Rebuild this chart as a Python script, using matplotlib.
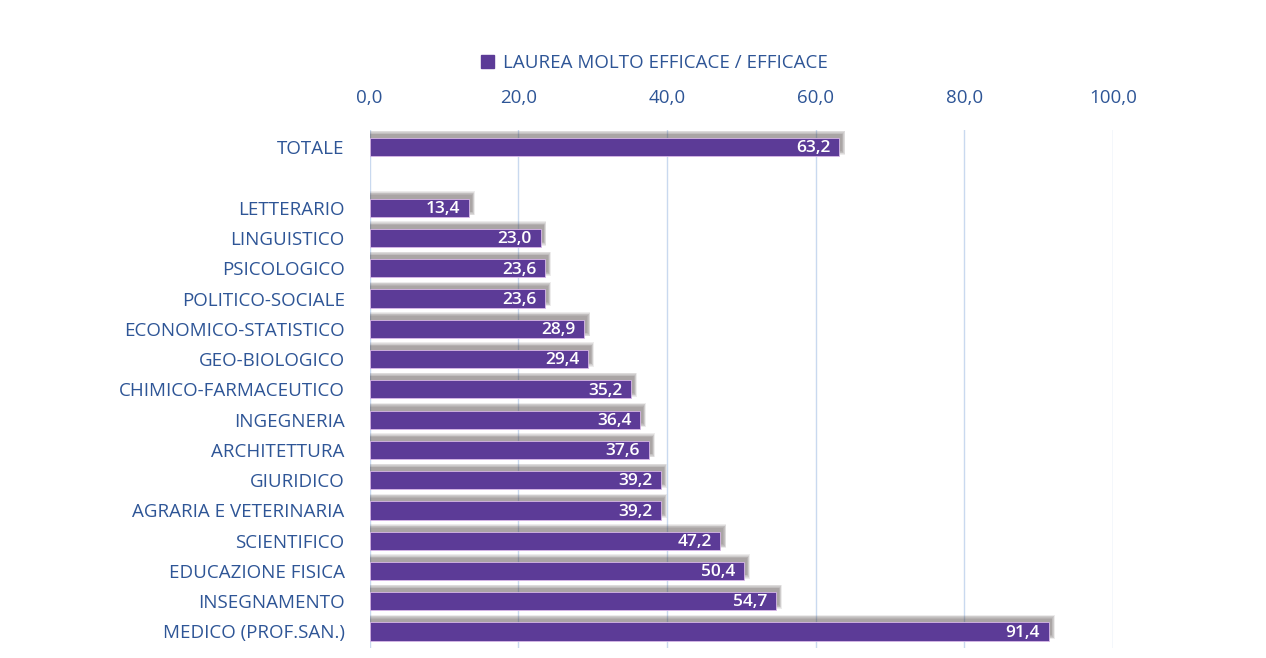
import matplotlib
matplotlib.use("Agg")
import matplotlib.pyplot as plt
from matplotlib.patches import Patch

# data (top to bottom, blank slot separates TOTALE from the groups)
categories = ["TOTALE", "", "LETTERARIO", "LINGUISTICO", "PSICOLOGICO",
              "POLITICO-SOCIALE", "ECONOMICO-STATISTICO", "GEO-BIOLOGICO",
              "CHIMICO-FARMACEUTICO", "INGEGNERIA", "ARCHITETTURA", "GIURIDICO",
              "AGRARIA E VETERINARIA", "SCIENTIFICO", "EDUCAZIONE FISICA",
              "INSEGNAMENTO", "MEDICO (PROF.SAN.)"]
values = [63.2, None, 13.4, 23.0, 23.6, 23.6, 28.9, 29.4, 35.2, 36.4, 37.6,
          39.2, 39.2, 47.2, 50.4, 54.7, 91.4]
x_ticks = [0, 20, 40, 60, 80, 100]
legend_label = "LAUREA MOLTO EFFICACE / EFFICACE"

bar_color = "#5c3b97"
text_color = "#2e5596"

plt.rcParams['font.family'] = ['Open Sans', 'DejaVu Sans']

fig = plt.figure(figsize=(12.66, 6.58), dpi=100)
ax = fig.add_axes([0.292, 0.015, 0.587, 0.787])

pos = [i for i, v in enumerate(values) if v is not None]
vals = [v for v in values if v is not None]

# soft drop shadow (blurred look via stacked translucent bars)
for k in range(6):
    grow = 0.05 * (5 - k)
    ax.barh([p - 0.15 for p in pos], [v + 0.4 + grow * 1.5 for v in vals],
            height=0.55 + grow, color="#403535", alpha=0.09, zorder=2,
            linewidth=0)

ax.barh(pos, vals, height=0.6, color=bar_color, zorder=3,
        edgecolor="#d9b8e8", linewidth=0.6)

for p, v in zip(pos, vals):
    ax.text(v - 1.2, p + 0.04, f"{v:.1f}".replace(".", ","), ha="right",
            va="center", color="white", fontsize=12.5, fontweight="semibold",
            zorder=4)

ax.set_xlim(0, 100)
ax.set_ylim(16.55, -0.56)
ax.set_xticks(x_ticks)
ax.set_xticklabels([f"{t:.1f}".replace(".", ",") for t in x_ticks])
ax.xaxis.tick_top()
ax.set_yticks(range(len(categories)))
ax.set_yticklabels(categories)
ax.tick_params(axis="both", length=0, colors=text_color, labelsize=13.5)
ax.tick_params(axis="x", pad=17)
ax.tick_params(axis="y", pad=18)
ax.grid(axis="x", color="#c9d9ef", linewidth=1, zorder=0)
ax.set_axisbelow(True)
for s in ax.spines.values():
    s.set_visible(False)

fig.legend(handles=[Patch(color=bar_color, label=legend_label)], loc="center",
           bbox_to_anchor=(0.517, 0.904), frameon=False, fontsize=13.5,
           labelcolor=text_color, handlelength=0.7, handleheight=0.7,
           handletextpad=0.5)

fig.savefig("out.png", dpi=100)
